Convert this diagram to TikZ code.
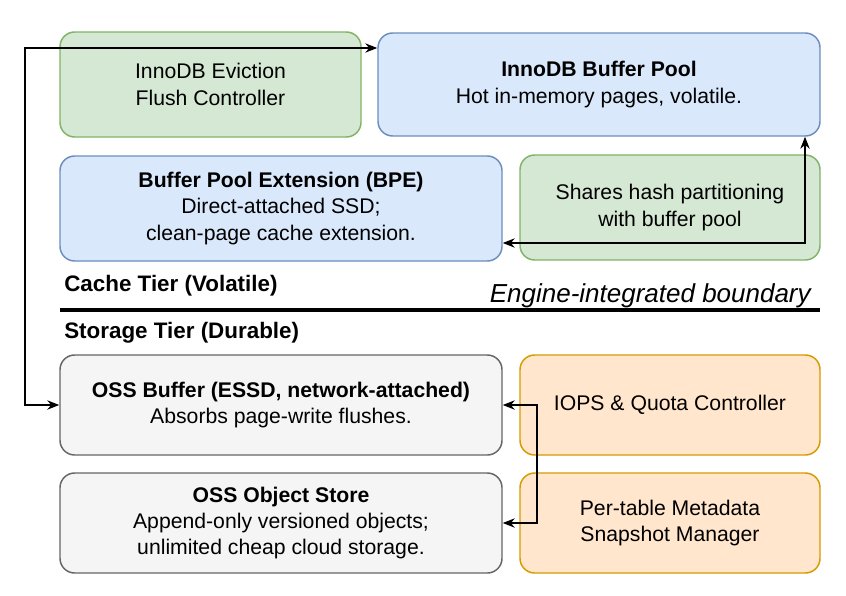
\documentclass[tikz,border=0pt]{standalone}
\usepackage{fontspec}
\setmainfont{Liberation Sans}
\usetikzlibrary{arrows.meta}
\definecolor{gfill}{HTML}{D5E8D4}\definecolor{gdraw}{HTML}{82B366}
\definecolor{bfill}{HTML}{DAE8FC}\definecolor{bdraw}{HTML}{6C8EBF}
\definecolor{yfill}{HTML}{F5F5F5}\definecolor{ydraw}{HTML}{666666}
\definecolor{ofill}{HTML}{FFE6CC}\definecolor{odraw}{HTML}{D79B00}
\tikzset{
  box/.style={rectangle, rounded corners=11pt, line width=1.1pt, align=center,
    font=\fontsize{15.9}{19.8}\selectfont, inner sep=0pt},
  greenbox/.style={box, fill=gfill, draw=gdraw},
  bluebox/.style={box, fill=bfill, draw=bdraw},
  graybox/.style={box, fill=yfill, draw=ydraw},
  orangebox/.style={box, fill=ofill, draw=odraw},
  wide/.style={minimum width=331.5pt},
  narrow/.style={minimum width=225pt},
  conn/.style={line width=1.1pt, {Stealth[length=9pt,width=7pt]}-{Stealth[length=9pt,width=7pt]}},
  tier/.style={font=\fontsize{16.8}{18}\selectfont\bfseries, anchor=west, inner sep=0pt}
}
\begin{document}
\begin{tikzpicture}[x=0.75pt,y=-0.75pt]
\useasboundingbox[fill=white] (0,0) rectangle (846,596);
\node[greenbox, minimum width=225.75pt, minimum height=78.75pt] (evict) at (210.5,84.5) {InnoDB Eviction\\Flush Controller};
\node[bluebox, wide, minimum height=77.25pt] (bp) at (599,84.5) {\textbf{InnoDB Buffer Pool}\\Hot in-memory pages, volatile.};
\node[bluebox, wide, minimum height=78.75pt] (bpe) at (281,208.5) {\textbf{Buffer Pool Extension (BPE)}\\Direct-attached SSD;\\clean-page cache extension.};
\node[greenbox, narrow, minimum height=78.75pt] (share) at (670,207.5) {Shares hash partitioning\\with buffer pool};
\node[tier] (cache) at (64,286) {Cache Tier (Volatile)};
\node[font=\fontsize{19.5}{22}\selectfont\itshape, anchor=east, inner sep=0pt] (eng) at (811,296) {Engine-integrated boundary};
\coordinate (la) at (60,310);
\coordinate (lb) at (820,310);
\draw[line width=2.3pt] (la) -- (lb);
\node[tier] (stor) at (64,333) {Storage Tier (Durable)};
\node[graybox, wide, minimum height=75pt] (ossb) at (281,405) {\textbf{OSS Buffer (ESSD, network-attached)}\\Absorbs page-write flushes.};
\node[orangebox, narrow, minimum height=75pt] (iops) at (670,405) {IOPS \& Quota Controller};
\node[graybox, wide, minimum height=75pt] (objs) at (281,523) {\textbf{OSS Object Store}\\Append-only versioned objects;\\unlimited cheap cloud storage.};
\node[orangebox, narrow, minimum height=75pt] (meta) at (670,523) {Per-table Metadata\\Snapshot Manager};
\coordinate (c1) at (25,48);
\coordinate (c2) at (805,243);
\coordinate (c3) at (537,405);
\draw[conn] (c1 -| bp.west) -- (c1) |- (ossb.west);
\draw[conn] (bpe.east |- c2) -- (c2) -- (c2 |- bp.south);
\draw[conn] (ossb.east) -- (c3) |- (objs.east);
\end{tikzpicture}
\end{document}
